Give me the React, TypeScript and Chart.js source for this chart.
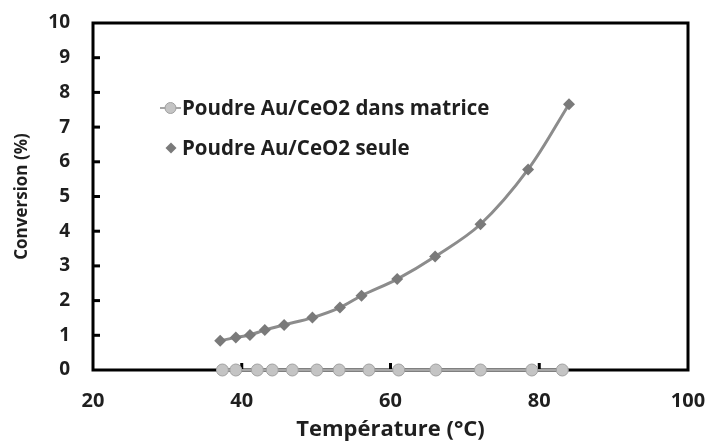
import React, { useEffect, useRef } from "react";
import { Chart, registerables } from "chart.js";

Chart.register(...registerables);

// ---- Data ----
const temperaturesMatrice = [37.4, 39.2, 42.1, 44.1, 46.8, 50.1, 53.1, 57.1, 61.1, 66.1, 72.1, 79.0, 83.1];
const conversionMatrice = [0, 0, 0, 0, 0, 0, 0, 0, 0, 0, 0, 0, 0];
const temperaturesSeule = [37.1, 39.2, 41.1, 43.1, 45.7, 49.5, 53.2, 56.1, 60.9, 66.0, 72.1, 78.5, 84.0];
const conversionSeule = [0.84, 0.94, 1.01, 1.15, 1.3, 1.51, 1.8, 2.14, 2.62, 3.27, 4.2, 5.78, 7.66];
const seriesLabels = ["Poudre Au/CeO2 dans matrice", "Poudre Au/CeO2 seule"];
const xTitle = "Température (°C)";
const yTitle = "Conversion (%)";
const xInnerTicks = [40, 60, 80];
const yInnerTicks = [1, 2, 3, 4, 5, 6, 7, 8, 9];

const FONT = "'Open Sans', sans-serif";
const TEXT = "#1f1f1f";

const framePlugin = {
  id: "frame",
  beforeDatasetsDraw(chart: any) {
    const { ctx, chartArea } = chart;
    const xs = chart.scales.x;
    const ys = chart.scales.y;
    ctx.save();
    ctx.strokeStyle = "#000";
    ctx.lineWidth = 3;
    ctx.strokeRect(chartArea.left, chartArea.top, chartArea.right - chartArea.left, chartArea.bottom - chartArea.top);
    ctx.fillStyle = "#000";
    yInnerTicks.forEach((v) => {
      const py = ys.getPixelForValue(v);
      ctx.fillRect(chartArea.left, py - 1.5, 7, 3);
    });
    xInnerTicks.forEach((v) => {
      const px = xs.getPixelForValue(v);
      ctx.fillRect(px - 1.5, chartArea.bottom - 7, 3, 7);
    });
    ctx.restore();
  },
};

const legendPlugin = {
  id: "innerLegend",
  afterDatasetsDraw(chart: any) {
    const { ctx } = chart;
    const ds0 = chart.data.datasets[0];
    const ds1 = chart.data.datasets[1];
    ctx.save();
    ctx.font = `bold 20.5px ${FONT}`;
    ctx.textBaseline = "middle";
    // row 1
    const y1 = 108;
    ctx.strokeStyle = ds0.borderColor;
    ctx.lineWidth = 2;
    ctx.beginPath();
    ctx.moveTo(160, y1);
    ctx.lineTo(181, y1);
    ctx.stroke();
    ctx.beginPath();
    ctx.arc(170.5, y1, 5.5, 0, Math.PI * 2);
    ctx.fillStyle = ds0.pointBackgroundColor;
    ctx.fill();
    ctx.strokeStyle = ds0.pointBorderColor;
    ctx.lineWidth = 1;
    ctx.stroke();
    ctx.fillStyle = TEXT;
    ctx.fillText(seriesLabels[0], 182, y1 + 1);
    // row 2
    const y2 = 148;
    ctx.fillStyle = ds1.pointBackgroundColor;
    ctx.beginPath();
    ctx.moveTo(171, y2 - 5.5);
    ctx.lineTo(176.5, y2);
    ctx.lineTo(171, y2 + 5.5);
    ctx.lineTo(165.5, y2);
    ctx.closePath();
    ctx.fill();
    ctx.fillStyle = TEXT;
    ctx.fillText(seriesLabels[1], 182, y2 + 1);
    ctx.restore();
  },
};

export default function App() {
  const ref = useRef<HTMLCanvasElement>(null);
  useEffect(() => {
    if (!ref.current) return;
    const chart = new Chart(ref.current, {
      type: "scatter",
      data: {
        datasets: [
          {
            label: seriesLabels[0],
            data: temperaturesMatrice.map((t, i) => ({ x: t, y: conversionMatrice[i] })),
            showLine: true,
            borderColor: "#a6a6a6",
            borderWidth: 2,
            pointRadius: 6,
            pointBackgroundColor: "#c4c4c4",
            pointBorderColor: "#a0a0a0",
            pointBorderWidth: 1,
            clip: false as any,
          },
          {
            label: seriesLabels[1],
            data: temperaturesSeule.map((t, i) => ({ x: t, y: conversionSeule[i] })),
            showLine: true,
            borderColor: "#8c8c8c",
            borderWidth: 3,
            tension: 0.35,
            pointStyle: "rectRot",
            pointRadius: 6,
            pointBackgroundColor: "#7a7a7a",
            pointBorderColor: "#7a7a7a",
            pointBorderWidth: 0,
            clip: false as any,
          },
        ],
      },
      options: {
        responsive: false,
        animation: false,
        layout: { padding: { top: 23, right: 17, left: 0, bottom: 0 } },
        plugins: {
          legend: { display: false },
          tooltip: { enabled: false },
        },
        scales: {
          x: {
            type: "linear",
            min: 20,
            max: 100,
            border: { display: false },
            grid: { display: false, drawTicks: false },
            ticks: {
              stepSize: 20,
              padding: 19,
              color: TEXT,
              font: { family: FONT, size: 20, weight: "bold" },
            },
            title: {
              display: true,
              text: xTitle,
              color: TEXT,
              padding: { top: 0, bottom: -2 },
              font: { family: FONT, size: 22, weight: "bold" },
            },
            afterFit(scale: any) {
              scale.height = 71;
              scale.paddingLeft = 0;
              scale.paddingRight = 0;
            },
          },
          y: {
            min: 0,
            max: 10,
            border: { display: false },
            grid: { display: false, drawTicks: false },
            ticks: {
              stepSize: 1,
              padding: 23,
              color: TEXT,
              font: { family: FONT, size: 19, weight: "bold" },
            },
            title: {
              display: true,
              text: yTitle,
              color: TEXT,
              padding: { top: 12, bottom: 0 },
              font: { family: FONT, size: 17, weight: "bold" },
            },
            afterFit(scale: any) {
              scale.width = 93;
              scale.paddingTop = 0;
              scale.paddingBottom = 0;
            },
          },
        },
      },
      plugins: [framePlugin, legendPlugin],
    });
    return () => chart.destroy();
  }, []);
  return (
    <div style={{ position: "absolute", left: 0, top: 0, width: 705, height: 441, background: "#fff" }}>
      <canvas ref={ref} width={705} height={441} />
    </div>
  );
}
